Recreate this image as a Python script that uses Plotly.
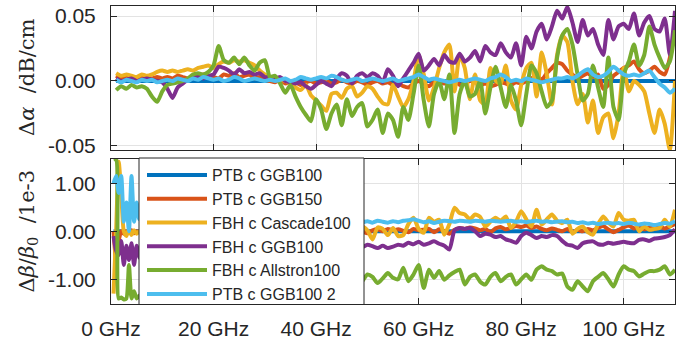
import plotly.graph_objects as go
from plotly.subplots import make_subplots

# ---------------- data ----------------
# top panel: frequency grid in GHz, values in 1e-3 dB/cm
freq_a = list(range(1, 111))

ptb_ggb100_a = [0.0] * 110  # reference measurement: identically zero

ptb_ggb150_a = [4, 2, 4, 3, 2, 4, 3, 2, 3, 2,
                3, 2, 4, 3, 2, 3, 4, 5, 4, 3,
                2, 5, 4, 6, 3, 4, 5, 2, 3, 1,
                0, -1, 1, -2, 0, -1, -3, -1, 0, -2,
                -1, 0, -2, -1, 1, -1, -2, 0, -1, -3,
                -1, 0, -2, -1, -3, -2, -4, -5, -2, 0,
                -2, -4, -1, 0, -2, -1, 1, -3, -2, 0,
                -1, -3, -2, -4, -3, -1, -2, -3, -1, -2,
                0, 2, 4, 1, 6, 10, 14, 13, 8, 5,
                2, 4, 6, 3, 5, -6, -3, 4, 7, 10,
                12, 15, 9, 6, 8, 11, 7, 5, 18, 40]

fbh_cascade100_a = [6, 4, 5, 4, 3, 5, 4, 5, 7, 8,
                    7, 8, 7, 8, 9, 8, 10, 11, 12, 10,
                    13, 15, 14, 16, 15, 16, 14, 12, 8, 5,
                    3, 2, 1, 0, -2, -5, -7, -3, -11, -15,
                    -19, -23, -10, -9, -13, -6, -4, -12, -9, -4,
                    -6, -12, -17, -18, -3, -12, -20, -14, 0, 20,
                    5, -15, -5, 10, 22, 28, -8, 20, 10, -14,
                    5, -15, -18, 10, 0, -2, 12, -15, -22, -3,
                    10, 14, -12, 22, 5, -18, 20, 35, 30, 0,
                    -18, -10, -32, -15, -40, -28, -25, -44, -25, 10,
                    -8, 0, -3, -8, -25, -40, -22, -33, -53, 0]

fbh_ggb100_a = [2, 0, 1, 2, 0, 1, 2, 1, 0, -1,
                -6, -13, -5, -2, 1, 2, 3, 2, 4, 5,
                11, 10, 8, 5, 9, 6, 7, 5, 6, 3,
                3, 2, 3, 0, -1, -2, -1, -4, -6, -3,
                0, -2, -4, 2, 6, 4, -2, 4, 6, 3,
                6, 4, -1, 9, 4, -4, 2, 8, 14, 21,
                8, 12, 17, 12, 20, 15, 14, 21, 15, 18,
                23, 15, 27, 22, 20, 29, 22, 18, 29, 12,
                34, 25, 38, 44, 32, 42, 54, 48, 57, 45,
                30, 47, 35, 40, 28, 20, 47, 32, 42, 44,
                40, 52, 35, 45, 50, 40, 38, 48, 20, 54]

fbh_allstron100_a = [-7, -4, -6, -3, -5, -4, -6, -12, -16, -8,
                     -3, -2, -1, 0, 2, 5, 6, 5, 7, 12,
                     27, 16, 14, 18, 13, 18, 12, 8, 14, 16,
                     3, 4, -2, -9, -3, -12, -20, -26, -31, -14,
                     -22, -37, -25, -18, -34, -14, -27, -20, -17, -35,
                     -30, -22, -40, -25, -30, -43, -20, -30, -10, 12,
                     -15, -35, -10, 0, -14, 5, -40, -10, 0, -12,
                     -10, 0, -25, -5, 11, -5, -20, -3, -15, -34,
                     -10, 12, 6, -8, -20, -15, 18, 35, 40, 28,
                     5, -15, -10, 12, -5, -20, 18, -20, -30, 5,
                     15, 28, 12, 20, 42, 28, 18, 10, 15, 39]

ptb_ggb100_2_a = [1, -1, 1, 0, -1, 1, 0, 1, -1, 0,
                  1, 0, 2, 1, 0, 2, 1, 3, 2, 1,
                  2, 0, 1, 3, 2, 0, 1, 2, 1, 0,
                  1, 0, 1, 2, 0, 1, 3, 2, 1, 2,
                  3, 2, 4, 3, 1, 0, 1, 2, 0, 1,
                  2, 1, 0, 1, 2, 0, 1, 2, 3, 5,
                  3, 1, 2, 1, 0, -1, 0, 1, 0, 1,
                  2, 1, 0, 2, 3, 5, 3, 0, 1, 0,
                  2, 1, 0, -1, 0, 1, 2, 2, 3, 2,
                  4, 7, 9, 5, 3, 4, 7, 11, 8, 5,
                  4, 5, 4, 6, 8, 3, -2, -5, -9, -6]

# bottom panel: frequency grid in GHz, values in 1e-3
freq_b = [0.5, 1.0, 1.5, 2.0, 2.5, 3.0, 3.5, 4.0, 4.5, 5.0, 5.5, 6.0] + list(range(7, 111))

ptb_ggb100_b = [0.0] * 116  # reference measurement: identically zero

ptb_ggb150_b = [0.0, -0.6, -0.2, 0.0, -0.05, 0.0, -0.03, 0.02, -0.04, 0.0, -0.02, 0.0,
                -0.02, 0.01, -0.03, 0.0, -0.02, 0.01, -0.01, -0.03, 0.0, -0.02,
                0.01, -0.01, 0.02, -0.02, 0.0, 0.01, -0.03, -0.01, 0.0, -0.02,
                0.01, -0.01, -0.03, 0.0, 0.02, -0.01, -0.02, 0.0, -0.03, -0.01,
                0.0, -0.02, 0.01, -0.03, -0.01, 0.0, -0.02, -0.04, -0.01, -0.03,
                -0.02, -0.03, -0.01, -0.04, 0.02, 0.04, 0.0, 0.05, 0.02, 0.04,
                0.01, -0.02, 0.05, 0.02, 0.03, 0.05, -0.02, 0.04, 0.0, -0.05,
                0.03, 0.07, 0.05, 0.08, 0.06, 0.02, 0.05, -0.02, 0.06, 0.09,
                0.04, 0.07, 0.11, 0.09, 0.12, 0.07, 0.10, 0.05, 0.02, 0.06,
                0.03, 0.0, 0.05, -0.02, 0.03, 0.0, 0.05, 0.02, 0.07, 0.11,
                0.04, -0.02, 0.03, 0.08, 0.12, 0.06, 0.09, 0.04, 0.08, 0.05,
                0.09, 0.06, 0.10, 0.15]

fbh_cascade100_b = [-1.3, 0.0, 1.45, 0.8, 0.0, -0.1, 0.05, -0.08, 0.02, -0.05, 0.0, -0.06,
                    -0.03, 0.02, -0.05, 0.01, -0.04, 0.03, -0.02, 0.0, -0.05, 0.02,
                    -0.03, 0.01, -0.02, 0.04, 0.0, -0.03, 0.02, -0.01, 0.03, -0.02,
                    0.0, 0.03, -0.04, 0.01, -0.02, 0.02, -0.05, 0.0, -0.03, 0.02,
                    -0.06, -0.02, 0.03, -0.08, -0.03, 0.05, -0.1, 0.0, -0.12, 0.04,
                    -0.15, -0.17, 0.1, 0.02, -0.17, 0.08, 0.05, -0.08, 0.07, -0.1,
                    -0.08, 0.15, 0.28, 0.05, -0.03, 0.28, 0.2, 0.24, -0.07, 0.15,
                    0.49, 0.38, 0.35, 0.25, 0.35, 0.3, 0.1, 0.2, 0.28, 0.22,
                    0.31, 0.07, 0.2, 0.42, 0.25, 0.1, 0.45, 0.14, 0.25, 0.35,
                    0.22, 0.17, 0.24, -0.05, 0.05, 0.1, -0.02, -0.07, 0.15, 0.31,
                    0.18, 0.1, 0.38, 0.24, 0.22, 0.24, 0.0, 0.1, 0.03, 0.05,
                    0.07, 0.24, 0.1, 0.45]

fbh_ggb100_b = [-0.1, -0.4, -0.5, -0.2, -0.7, -0.3, -0.6, -0.25, -0.7, -0.3, -0.55, -0.4,
                -0.35, -0.5, -0.3, -0.45, -0.35, -0.4, -0.3, -0.38, -0.32, -0.36,
                -0.3, -0.34, -0.28, -0.33, -0.3, -0.35, -0.29, -0.33, -0.31, -0.36,
                -0.3, -0.34, -0.32, -0.29, -0.35, -0.31, -0.33, -0.3, -0.34, -0.32,
                -0.3, -0.35, -0.31, -0.33, -0.29, -0.34, -0.31, -0.3, -0.35, -0.32,
                -0.3, -0.31, -0.33, -0.28, -0.31, -0.35, -0.3, -0.35, -0.32, -0.28,
                -0.3, -0.24, -0.27, -0.22, -0.28, -0.25, -0.21, -0.26, -0.3, -0.38,
                0.02, 0.07, 0.05, 0.07, 0.0, -0.1, -0.05, -0.07, -0.12, -0.1,
                -0.17, -0.2, -0.24, -0.1, -0.03, -0.08, -0.14, -0.1, -0.12, -0.08,
                -0.1, -0.2, -0.28, -0.3, -0.35, -0.25, -0.22, -0.21, -0.27, -0.28,
                -0.24, -0.26, -0.24, -0.22, -0.24, -0.25, -0.18, -0.17, -0.2, -0.15,
                -0.14, -0.12, -0.08, 0.04]

fbh_allstron100_b = [1.5, 1.5, -1.4, -1.38, -1.42, -1.4, -0.7, -1.4, -1.25, -1.4, -1.35, -1.3,
                     -1.25, -1.3, -1.2, -1.28, -1.22, -1.18, -1.25, -1.2, -1.15, -1.22,
                     -1.18, -1.12, -1.2, -1.15, -1.1, -1.18, -1.12, -1.08, -1.15, -1.1,
                     -1.05, -1.12, -1.08, -1.02, -1.1, -1.05, -1.0, -1.08, -1.03, -0.98,
                     -1.05, -1.0, -0.96, -1.04, -0.98, -1.06, -1.0, -0.95, -1.05, -1.0,
                     -1.08, -1.11, -1.04, -0.9, -0.95, -1.08, -0.98, -0.87, -0.97, -1.0,
                     -0.76, -1.04, -0.9, -0.7, -1.18, -0.8, -0.97, -0.83, -1.01, -0.92,
                     -0.85, -0.8, -1.11, -0.95, -0.9, -1.05, -1.11, -0.95, -0.87, -1.04,
                     -0.95, -0.9, -1.11, -1.0, -0.9, -1.01, -0.8, -0.73, -0.8, -0.83,
                     -0.9, -0.88, -1.15, -1.22, -1.04, -1.15, -1.25, -1.04, -0.95, -0.87,
                     -1.0, -1.15, -0.9, -0.73, -0.8, -0.83, -0.94, -0.88, -0.83, -0.83,
                     -0.8, -0.73, -0.9, -0.8]

ptb_ggb100_2_b = [1.0, 1.15, 0.8, 1.15, 0.2, 0.6, 0.0, 1.15, 0.2, 0.6, 0.25, 0.4,
                  0.30, 0.26, 0.31, 0.24, 0.28, 0.25, 0.30, 0.24, 0.27, 0.22,
                  0.26, 0.24, 0.28, 0.23, 0.25, 0.27, 0.22, 0.24, 0.26, 0.21,
                  0.25, 0.23, 0.27, 0.22, 0.24, 0.20, 0.23, 0.25, 0.21, 0.24,
                  0.22, 0.20, 0.23, 0.21, 0.24, 0.22, 0.20, 0.23, 0.21, 0.22,
                  0.20, 0.21, 0.19, 0.21, 0.18, 0.22, 0.20, 0.18, 0.21, 0.19,
                  0.22, 0.23, 0.25, 0.22, 0.19, 0.21, 0.17, 0.20, 0.22, 0.21,
                  0.20, 0.22, 0.21, 0.20, 0.22, 0.21, 0.20, 0.22, 0.21, 0.20,
                  0.21, 0.22, 0.20, 0.21, 0.19, 0.21, 0.22, 0.20, 0.21, 0.19,
                  0.20, 0.21, 0.19, 0.20, 0.17, 0.19, 0.16, 0.18, 0.15, 0.17,
                  0.18, 0.16, 0.17, 0.15, 0.18, 0.16, 0.14, 0.16, 0.15, 0.13,
                  0.15, 0.17, 0.16, 0.21]

names = ["PTB c GGB100", "PTB c GGB150", "FBH c Cascade100",
         "FBH c GGB100", "FBH c Allstron100", "PTB c GGB100 2"]
colors = ["#0072BD", "#D95319", "#EDB120", "#7E2F8E", "#77AC30", "#4DBEEE"]

top_series = [ptb_ggb100_a, ptb_ggb150_a, fbh_cascade100_a,
              fbh_ggb100_a, fbh_allstron100_a, ptb_ggb100_2_a]
bottom_series = [ptb_ggb100_b, ptb_ggb150_b, fbh_cascade100_b,
                 fbh_ggb100_b, fbh_allstron100_b, ptb_ggb100_2_b]

x_ticks = [0, 20, 40, 60, 80, 100]
x_ticktext = ["0 GHz", "20 GHz", "40 GHz", "60 GHz", "80 GHz", "100 GHz"]
top_ticks = [-0.05, 0.0, 0.05]
top_ticktext = ["-0.05", "0.00", "0.05"]
bottom_ticks = [-1.0, 0.0, 1.0]
bottom_ticktext = ["-1.00", "0.00", "1.00"]

# ---------------- figure ----------------
W, H = 697, 346
ML, MR, MT, MB = 111, 22, 6, 42
pw = W - ML - MR
ph = H - MT - MB


def px_x(x):
    return (x - ML) / pw


def px_y(y):
    return (H - MB - y) / ph


top_dom = [px_y(150), 1.0]
bot_dom = [0.0, px_y(159)]

fig = make_subplots(rows=2, cols=1, shared_xaxes=False)

for name, col, ya in zip(names, colors, top_series):
    fig.add_trace(go.Scatter(x=freq_a, y=[v / 1000.0 for v in ya], mode="lines",
                             name=name, line=dict(color=col, width=4, shape="spline",
                                                  smoothing=0.6),
                             showlegend=False), row=1, col=1)
for name, col, yb in zip(names, colors, bottom_series):
    fig.add_trace(go.Scatter(x=freq_b, y=yb, mode="lines", name=name,
                             line=dict(color=col, width=4, shape="spline",
                                       smoothing=0.6),
                             showlegend=True), row=2, col=1)

axis_col = "#262626"
grid_col = "#e3e3e3"
tick_font = dict(family="Liberation Sans, Arial, sans-serif", size=21, color=axis_col)

common_x = dict(range=[0, 110], tickvals=x_ticks, ticktext=x_ticktext, showgrid=True,
                gridcolor=grid_col, gridwidth=1, zeroline=False, showline=True,
                linecolor=axis_col, linewidth=1, mirror="ticks", ticks="inside",
                ticklen=6, tickcolor=axis_col, tickfont=tick_font, automargin=False)

common_y = dict(showgrid=True, gridcolor=grid_col, zeroline=False, showline=True,
                linecolor=axis_col, linewidth=1, mirror="ticks", ticks="inside",
                ticklen=6, tickcolor=axis_col, tickfont=tick_font,
                ticklabelstandoff=10, automargin=False)

fig.update_layout(
    width=W, height=H,
    margin=dict(l=ML, r=MR, t=MT, b=MB, autoexpand=False),
    paper_bgcolor="white", plot_bgcolor="white",
    xaxis=dict(**common_x, showticklabels=False, domain=[0, 1]),
    xaxis2=dict(**common_x, showticklabels=True, ticklabelstandoff=6, domain=[0, 1]),
    yaxis=dict(**common_y, domain=top_dom, range=[-0.0531, 0.0577],
               tickvals=top_ticks, ticktext=top_ticktext),
    yaxis2=dict(**common_y, domain=bot_dom, range=[-1.515, 1.506],
                tickvals=bottom_ticks, ticktext=bottom_ticktext),
    legend=dict(x=px_x(142), y=px_y(158), xanchor="left", yanchor="top",
                bgcolor="rgba(0,0,0,0)", borderwidth=0, itemwidth=60,
                font=dict(family="Liberation Sans, Arial, sans-serif", size=16,
                          color=axis_col),
                tracegroupgap=0),
    showlegend=True,
)

# opaque legend box (drawn above the traces, below the legend entries)
fig.add_shape(type="rect", xref="paper", yref="paper",
              x0=px_x(139), x1=px_x(364), y0=px_y(304.5), y1=px_y(158),
              fillcolor="white", line=dict(color=axis_col, width=1), layer="above")

title_font = dict(family="DejaVu Serif, serif", size=21, color=axis_col)
fig.add_annotation(text="Δ<i>α</i>  /dB/cm", xref="paper", yref="paper",
                   x=px_x(27), y=sum(top_dom) / 2,
                   xanchor="center", yanchor="middle", textangle=-90,
                   showarrow=False, font=title_font)
fig.add_annotation(text="Δ<i>β</i>/<i>β</i><sub>0</sub>  /1e-3", xref="paper", yref="paper",
                   x=px_x(27), y=sum(bot_dom) / 2,
                   xanchor="center", yanchor="middle", textangle=-90,
                   showarrow=False, font=title_font)

fig.write_html("out.html", config={"displayModeBar": False},
               post_script="document.body.style.margin='0px';")
